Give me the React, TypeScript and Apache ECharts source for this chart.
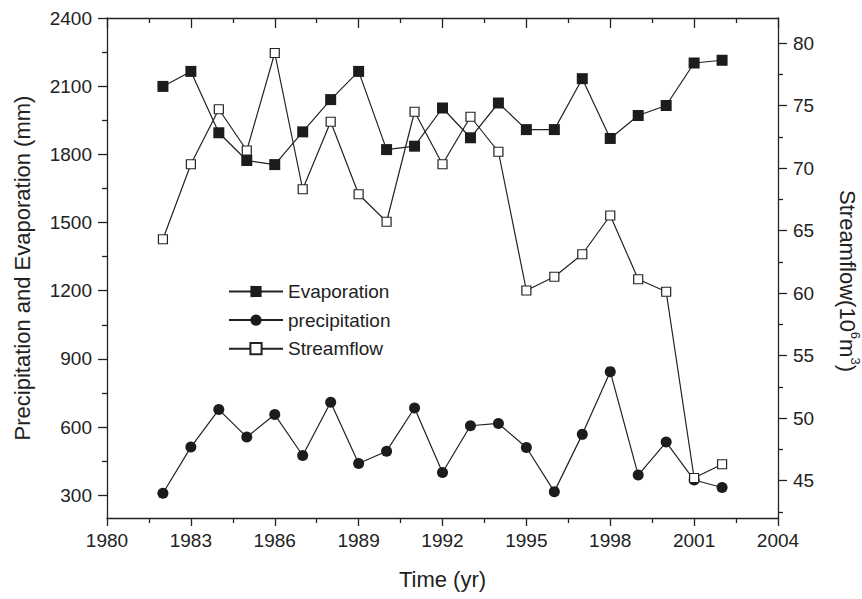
import React, { useEffect, useRef } from "react";
import * as echarts from "echarts";

const years = [1982, 1983, 1984, 1985, 1986, 1987, 1988, 1989, 1990, 1991, 1992, 1993, 1994, 1995, 1996, 1997, 1998, 1999, 2000, 2001, 2002];
const evaporation = [2099, 2165, 1895, 1773, 1755, 1899, 2041, 2165, 1821, 1836, 2004, 1873, 2026, 1909, 1909, 2133, 1870, 1971, 2015, 2202, 2214];
const precipitation = [309, 512, 677, 556, 655, 475, 709, 440, 494, 684, 400, 606, 616, 510, 316, 568, 844, 389, 534, 367, 334];
const streamflow = [64.3, 70.3, 74.7, 71.4, 79.2, 68.3, 73.7, 67.9, 65.7, 74.5, 70.3, 74.1, 71.3, 60.2, 61.3, 63.1, 66.2, 61.1, 60.1, 45.2, 46.3];

const leftMajorTicks = [300, 600, 900, 1200, 1500, 1800, 2100, 2400];
const leftMinorTicks = [450, 750, 1050, 1350, 1650, 1950, 2250];
const rightMajorTicks = [45, 50, 55, 60, 65, 70, 75, 80];
const rightMinorTicks = [42.5, 47.5, 52.5, 57.5, 62.5, 67.5, 72.5, 77.5];

const FONT = "'Liberation Sans', Arial, Helvetica, sans-serif";
const INK = "#222";

export default function App() {
  const ref = useRef<HTMLDivElement>(null);
  useEffect(() => {
    if (!ref.current) return;
    const chart = echarts.init(ref.current, undefined, { renderer: "svg" });
    const axisLine = { show: true, onZero: false, lineStyle: { color: INK, width: 1.3 } };
    const tickStyle = { color: INK, width: 1.3 };
    const plain = (v: number) => String(v);
    const option: any = {
      animation: false,
      backgroundColor: "#fff",
      textStyle: { fontFamily: FONT, color: INK },
      grid: { left: 107, right: 84, top: 18, bottom: 81, containLabel: false, outerBoundsMode: "none" },
      legend: {
        orient: "vertical",
        left: 228,
        top: 282,
        padding: 0,
        itemWidth: 54,
        itemHeight: 14,
        itemGap: 9.6,
        textStyle: { fontSize: 19, color: INK, fontFamily: FONT },
        data: ["Evaporation", "precipitation", "Streamflow"],
      },
      xAxis: [
        {
          type: "value",
          position: "bottom",
          min: 1980,
          max: 2004,
          interval: 3,
          axisLine,
          axisTick: { show: true, inside: false, length: 8, lineStyle: tickStyle },
          minorTick: { show: true, splitNumber: 2, length: 5, lineStyle: tickStyle },
          axisLabel: { fontSize: 19, color: INK, fontFamily: FONT, margin: 13, formatter: plain },
          splitLine: { show: false },
          minorSplitLine: { show: false },
          name: "Time (yr)",
          nameLocation: "middle",
          nameGap: 50,
          nameTextStyle: { fontSize: 22, color: INK, fontFamily: FONT },
        },
        {
          type: "value",
          position: "top",
          min: 1980,
          max: 2004,
          interval: 3,
          axisLine,
          axisTick: { show: true, inside: true, length: 10, lineStyle: tickStyle },
          minorTick: { show: true, splitNumber: 2, length: 5, lineStyle: tickStyle },
          axisLabel: { show: false },
          splitLine: { show: false },
          minorSplitLine: { show: false },
        },
      ],
      yAxis: [
        {
          type: "value",
          position: "left",
          min: 200,
          max: 2400,
          axisLine,
          axisTick: { show: true, inside: false, length: 9, lineStyle: tickStyle, customValues: leftMajorTicks },
          axisLabel: { fontSize: 19, color: INK, fontFamily: FONT, margin: 15, customValues: leftMajorTicks, formatter: plain },
          splitLine: { show: false },
          name: "Precipitation and Evaporation (mm)",
          nameLocation: "middle",
          nameGap: 74,
          nameTextStyle: { fontSize: 22, color: INK, fontFamily: FONT },
        },
        {
          type: "value",
          position: "right",
          min: 42,
          max: 82,
          axisLine,
          axisTick: { show: true, inside: false, length: 9, lineStyle: tickStyle, customValues: rightMajorTicks },
          axisLabel: { fontSize: 19, color: INK, fontFamily: FONT, margin: 15, customValues: rightMajorTicks, formatter: plain },
          splitLine: { show: false },
          name: "{a|Streamflow(10}{s|6}{a|m}{s|3}{a|)}",
          nameLocation: "middle",
          nameRotate: -90,
          nameGap: 58,
          nameTextStyle: {
            padding: [0, 0, 0, 26],
            rich: {
              a: { fontSize: 22, color: INK, fontFamily: FONT, lineHeight: 26, verticalAlign: "bottom" },
              s: { fontSize: 13, color: INK, fontFamily: FONT, lineHeight: 26, verticalAlign: "top" },
            },
          },
        },
        {
          type: "value",
          position: "left",
          min: 200,
          max: 2400,
          axisLine: { show: false },
          axisTick: { show: true, inside: false, length: 5, lineStyle: tickStyle, customValues: leftMinorTicks },
          axisLabel: { show: false },
          splitLine: { show: false },
        },
        {
          type: "value",
          position: "right",
          min: 42,
          max: 82,
          axisLine: { show: false },
          axisTick: { show: true, inside: false, length: 5, lineStyle: tickStyle, customValues: rightMinorTicks },
          axisLabel: { show: false },
          splitLine: { show: false },
        },
      ],
      series: [
        {
          name: "Evaporation",
          type: "line",
          xAxisIndex: 0,
          yAxisIndex: 0,
          data: years.map((y, i) => [y, evaporation[i]]),
          symbol: "rect",
          symbolSize: 11,
          itemStyle: { color: "#1c1c1c" },
          lineStyle: { color: INK, width: 1.2 },
        },
        {
          name: "precipitation",
          type: "line",
          xAxisIndex: 0,
          yAxisIndex: 0,
          data: years.map((y, i) => [y, precipitation[i]]),
          symbol: "circle",
          symbolSize: 11,
          itemStyle: { color: "#1c1c1c" },
          lineStyle: { color: INK, width: 1.2 },
        },
        {
          name: "Streamflow",
          type: "line",
          xAxisIndex: 0,
          yAxisIndex: 1,
          data: years.map((y, i) => [y, streamflow[i]]),
          symbol: "rect",
          symbolSize: 9,
          itemStyle: { color: "#fff", borderColor: INK, borderWidth: 1.2 },
          lineStyle: { color: INK, width: 1.2 },
        },
      ],
    };
    chart.setOption(option);
    return () => chart.dispose();
  }, []);
  return <div ref={ref} style={{ position: "fixed", left: 0, top: 0, width: 862, height: 599, background: "#fff" }} />;
}
